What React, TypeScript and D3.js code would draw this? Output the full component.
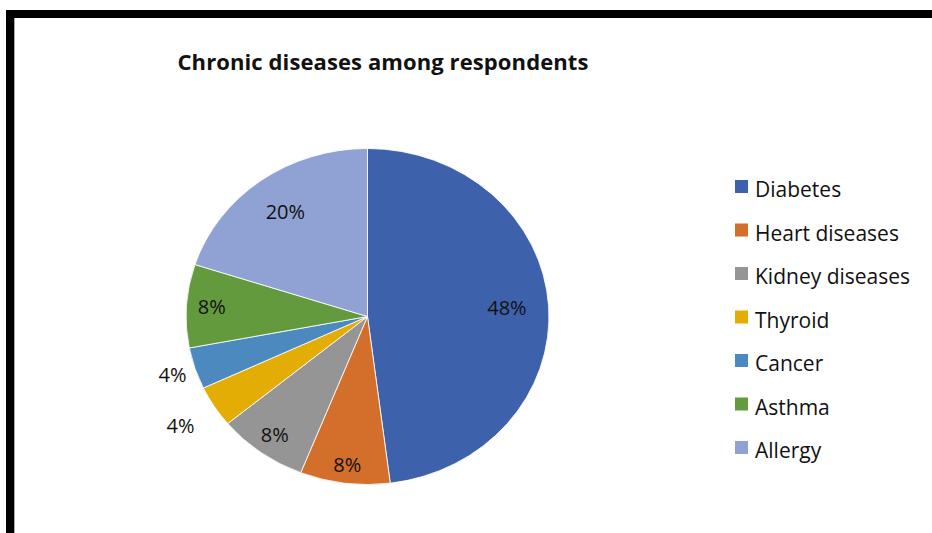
import { useEffect, useRef } from "react";
import * as d3 from "d3";

const categories = [
  "Diabetes",
  "Heart diseases",
  "Kidney diseases",
  "Thyroid",
  "Cancer",
  "Asthma",
  "Allergy",
];
const values = [48, 8, 8, 4, 4, 8, 20];
const colors = ["#3d62ab", "#d46e2b", "#959595", "#e3ad05", "#4c89bf", "#639a3e", "#8fa2d3"];
const title = "Chronic diseases among respondents";

export default function App() {
  const svgRef = useRef<SVGSVGElement>(null);

  useEffect(() => {
    const width = 932;
    const height = 533;
    const radius = 168;
    const sx = 1.08;
    const cx = 367.5;
    const cy = 316.5;
    const font = "'Open Sans', Lato, sans-serif";

    const svg = d3.select(svgRef.current).attr("width", width).attr("height", height);
    svg.selectAll("*").remove();

    svg.append("rect").attr("width", width).attr("height", height).attr("fill", "#fff");

    // frame (top and left edges only visible)
    svg.append("rect").attr("x", 6).attr("y", 10).attr("width", width - 6).attr("height", 8).attr("fill", "#000");
    svg.append("rect").attr("x", 6).attr("y", 10).attr("width", 8).attr("height", height - 10).attr("fill", "#000");
    svg.append("rect").attr("x", 14).attr("y", 18).attr("width", 1).attr("height", height - 18).attr("fill", "#aaa");

    svg
      .append("text")
      .attr("x", 383)
      .attr("y", 70)
      .attr("text-anchor", "middle")
      .attr("font-family", font)
      .attr("font-weight", "bold")
      .attr("font-size", 22)
      .attr("letter-spacing", 0.1)
      .attr("fill", "#111")
      .text(title);

    const data = categories.map((c, i) => ({ name: c, value: values[i], color: colors[i] }));
    const pie = d3.pie<any>().value((d) => d.value).sort(null);
    const arcs = pie(data);
    const arc = d3.arc<any>().innerRadius(0).outerRadius(radius);

    const g = svg.append("g").attr("transform", `translate(${cx},${cy}) scale(${sx},1)`);
    g.selectAll("path")
      .data(arcs)
      .enter()
      .append("path")
      .attr("d", arc)
      .attr("fill", (d) => d.data.color)
      .attr("stroke", "#fff")
      .attr("stroke-width", 0.8);

    // label distance from centre, as a fraction of the radius
    const labelRadius = [0.77, 0.89, 0.87, 1.22, 1.13, 0.86, 0.77];
    svg
      .append("g")
      .selectAll("text")
      .data(arcs)
      .enter()
      .append("text")
      .attr("x", (d, i) => {
        const a = (d.startAngle + d.endAngle) / 2;
        return cx + Math.sin(a) * radius * labelRadius[i] * sx;
      })
      .attr("y", (d, i) => {
        const a = (d.startAngle + d.endAngle) / 2;
        return cy - Math.cos(a) * radius * labelRadius[i];
      })
      .attr("dy", "0.35em")
      .attr("text-anchor", "middle")
      .attr("font-family", font)
      .attr("font-size", 20)
      .attr("fill", "#111")
      .text((d) => `${d.data.value}%`);

    const legend = svg
      .append("g")
      .selectAll("g")
      .data(data)
      .enter()
      .append("g")
      .attr("transform", (d, i) => `translate(735,${190 + i * 43.5})`);
    legend
      .append("rect")
      .attr("x", 0)
      .attr("y", -10)
      .attr("width", 13)
      .attr("height", 13)
      .attr("fill", (d) => d.color);
    legend
      .append("text")
      .attr("x", 20)
      .attr("y", 0)
      .attr("dy", "0.35em")
      .attr("font-family", font)
      .attr("font-size", 21)
      .attr("fill", "#111")
      .text((d) => d.name);
  }, []);

  return <svg ref={svgRef} style={{ position: "absolute", left: 0, top: 0 }}></svg>;
}
